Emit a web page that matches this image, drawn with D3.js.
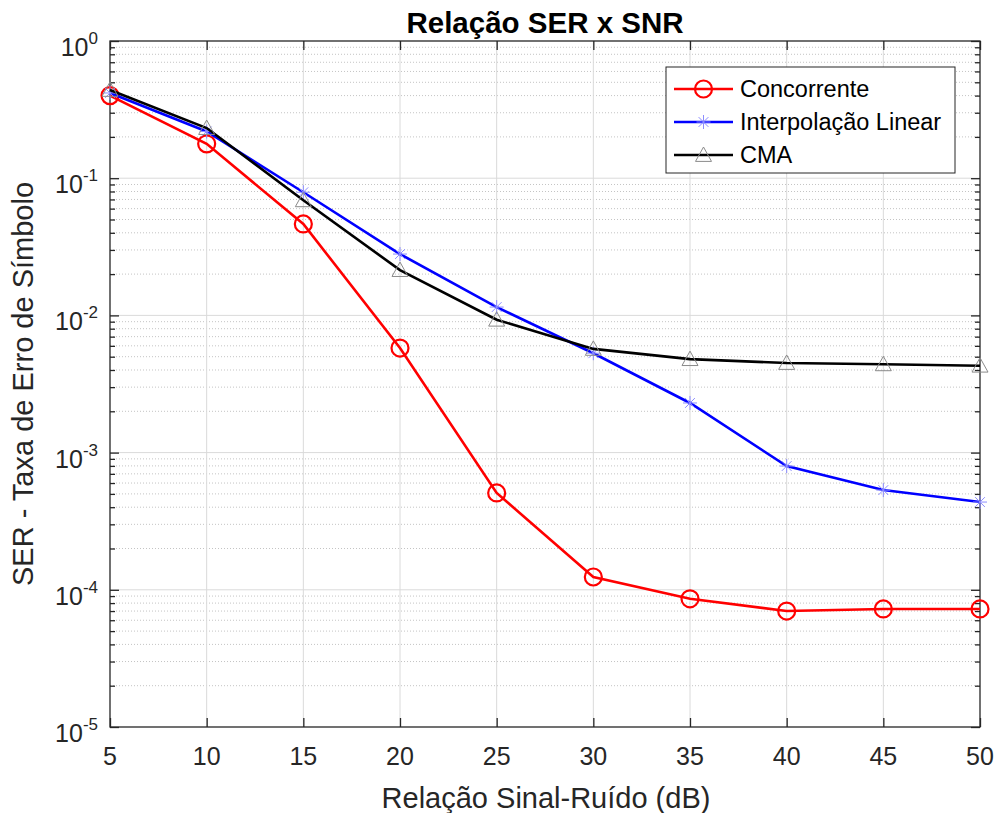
<!DOCTYPE html>
<html>
<head>
<meta charset="utf-8">
<script src="https://cdn.jsdelivr.net/npm/d3@7"></script>
<style>
body { margin: 0; background: #fff; }
svg { font-family: "Liberation Sans", Arial, Helvetica, sans-serif; }
</style>
</head>
<body>
<svg id="svg1" width="999" height="813"></svg>
<script>
var snr = [5, 10, 15, 20, 25, 30, 35, 40, 45, 50];
var concorrente = [0.40, 0.178, 0.0464, 0.00578, 5.08e-4, 1.24e-4, 8.6e-5, 7.0e-5, 7.25e-5, 7.25e-5];
var interpolacao = [0.418, 0.219, 0.079, 0.028, 0.0115, 0.0053, 0.0023, 7.98e-4, 5.33e-4, 4.36e-4];
var cma = [0.44, 0.232, 0.069, 0.0214, 0.0093, 0.0057, 0.0048, 0.0045, 0.0044, 0.0043];
var seriesNames = ["Concorrente", "Interpolação Linear", "CMA"];
var xTicks = [5, 10, 15, 20, 25, 30, 35, 40, 45, 50];
var yExponents = [0, -1, -2, -3, -4, -5];

var svg = d3.select('svg');
var mLeft = 110, mRight = 980, mTop = 41, mBottom = 727;

var x = d3.scaleLinear().domain([5, 50]).range([mLeft, mRight]);
var y = d3.scaleLog().domain([1e-5, 1]).range([mBottom, mTop]);

// grid: minor dotted
var minor = [];
for (var e = -5; e < 0; e++) {
    for (var k = 2; k <= 9; k++) minor.push(k * Math.pow(10, e));
}
svg.append('g').selectAll('line').data(minor).enter().append('line')
    .attr('x1', mLeft).attr('x2', mRight)
    .attr('y1', function(d) { return y(d); }).attr('y2', function(d) { return y(d); })
    .attr('stroke', '#c4c4c4').attr('stroke-width', 1)
    .attr('stroke-dasharray', '1,2');

// major grid
svg.append('g').selectAll('line').data(yExponents.slice(1, 5)).enter().append('line')
    .attr('x1', mLeft).attr('x2', mRight)
    .attr('y1', function(d) { return y(Math.pow(10, d)); }).attr('y2', function(d) { return y(Math.pow(10, d)); })
    .attr('stroke', '#dadada').attr('stroke-width', 1);
svg.append('g').selectAll('line').data(xTicks.slice(1, 9)).enter().append('line')
    .attr('y1', mTop).attr('y2', mBottom)
    .attr('x1', function(d) { return x(d); }).attr('x2', function(d) { return x(d); })
    .attr('stroke', '#dadada').attr('stroke-width', 1);

// axes (ticks inside)
var yTickVals = yExponents.map(function(d) { return Math.pow(10, d); });
var xAxisB = d3.axisBottom(x).tickValues(xTicks).tickSize(-9).tickFormat('');
var xAxisT = d3.axisTop(x).tickValues(xTicks).tickSize(-9).tickFormat('');
var yAxisL = d3.axisLeft(y).tickValues(yTickVals).tickSize(-9).tickFormat('');
var yAxisR = d3.axisRight(y).tickValues(yTickVals).tickSize(-9).tickFormat('');
var yMinL = d3.axisLeft(y).tickValues(minor).tickSize(-5).tickFormat('');
var yMinR = d3.axisRight(y).tickValues(minor).tickSize(-5).tickFormat('');

function styleAxis(g) {
    g.selectAll('path').remove();
    g.selectAll('line').attr('stroke', '#262626').attr('stroke-width', 1.3);
}
svg.append('g').attr('transform', 'translate(0,' + mBottom + ')').call(xAxisB).call(styleAxis);
svg.append('g').attr('transform', 'translate(0,' + mTop + ')').call(xAxisT).call(styleAxis);
svg.append('g').attr('transform', 'translate(' + mLeft + ',0)').call(yAxisL).call(styleAxis);
svg.append('g').attr('transform', 'translate(' + mRight + ',0)').call(yAxisR).call(styleAxis);
svg.append('g').attr('transform', 'translate(' + mLeft + ',0)').call(yMinL).call(styleAxis);
svg.append('g').attr('transform', 'translate(' + mRight + ',0)').call(yMinR).call(styleAxis);

svg.append('rect').attr('x', mLeft).attr('y', mTop)
    .attr('width', mRight - mLeft).attr('height', mBottom - mTop)
    .attr('fill', 'none').attr('stroke', '#262626').attr('stroke-width', 1.3);

// tick labels
svg.append('g').selectAll('text').data(xTicks).enter().append('text')
    .attr('x', function(d) { return x(d); }).attr('y', 765)
    .attr('text-anchor', 'middle').attr('font-size', 25).attr('fill', '#262626')
    .text(function(d) { return d; });

var yl = svg.append('g').selectAll('text').data(yExponents).enter().append('text')
    .attr('x', 98).attr('y', function(d) { return y(Math.pow(10, d)) + 15; })
    .attr('text-anchor', 'end').attr('font-size', 25).attr('fill', '#262626');
yl.append('tspan').text('10');
yl.append('tspan').attr('dy', -12).attr('font-size', 17).text(function(d) { return d; });

// titles
svg.append('text').attr('x', 545).attr('y', 33).attr('text-anchor', 'middle')
    .attr('font-size', 29.5).attr('font-weight', 'bold').attr('fill', '#000')
    .text('Relação SER x SNR');
svg.append('text').attr('x', 546).attr('y', 808).attr('text-anchor', 'middle')
    .attr('font-size', 29).attr('fill', '#262626')
    .text('Relação Sinal-Ruído (dB)');
svg.append('text').attr('transform', 'translate(33,384) rotate(-90)').attr('text-anchor', 'middle')
    .attr('font-size', 29).attr('fill', '#262626')
    .text('SER - Taxa de Erro de Símbolo');

// series
var line = d3.line().x(function(d) { return x(d[0]); }).y(function(d) { return y(d[1]); });
var series = [
    { name: seriesNames[0], vals: concorrente, color: '#ff0000', marker: 'circle' },
    { name: seriesNames[1], vals: interpolacao, color: '#0000ff', marker: 'star' },
    { name: seriesNames[2], vals: cma, color: '#000000', marker: 'tri' }
];

function drawMarker(g, type, cx, cy) {
    if (type === 'circle') {
        g.append('circle').attr('cx', cx).attr('cy', cy).attr('r', 8.5)
            .attr('fill', 'none').attr('stroke', '#ff0000').attr('stroke-width', 2.2);
    } else if (type === 'star') {
        var s = 7, c = '#8c8cff';
        [[s, 0], [0, s], [s * 0.7, s * 0.7], [s * 0.7, -s * 0.7]].forEach(function(p) {
            g.append('line').attr('x1', cx - p[0]).attr('y1', cy - p[1])
                .attr('x2', cx + p[0]).attr('y2', cy + p[1])
                .attr('stroke', c).attr('stroke-width', 1);
        });
    } else {
        var h = 8;
        g.append('path')
            .attr('d', 'M' + cx + ',' + (cy - h) + 'L' + (cx + h) + ',' + (cy + h * 0.8) + 'L' + (cx - h) + ',' + (cy + h * 0.8) + 'Z')
            .attr('fill', 'none').attr('stroke', '#8a8a8a').attr('stroke-width', 1);
    }
}

series.forEach(function(s) {
    var pts = snr.map(function(d, i) { return [d, s.vals[i]]; });
    svg.append('path').datum(pts).attr('d', line)
        .attr('fill', 'none').attr('stroke', s.color).attr('stroke-width', 2.6);
    var mg = svg.append('g');
    pts.forEach(function(p) { drawMarker(mg, s.marker, x(p[0]), y(p[1])); });
});

// legend
var lg = svg.append('g');
lg.append('rect').attr('x', 666).attr('y', 67).attr('width', 289).attr('height', 106)
    .attr('fill', '#fff').attr('stroke', '#262626').attr('stroke-width', 1);
series.forEach(function(s, i) {
    var ly = 89 + i * 33;
    lg.append('line').attr('x1', 674).attr('x2', 733).attr('y1', ly).attr('y2', ly)
        .attr('stroke', s.color).attr('stroke-width', 2.6);
    drawMarker(lg, s.marker, 703.5, ly);
    lg.append('text').attr('x', 740).attr('y', ly + 8).attr('font-size', 23.5).attr('fill', '#000')
        .text(s.name);
});
</script>
</body>
</html>
